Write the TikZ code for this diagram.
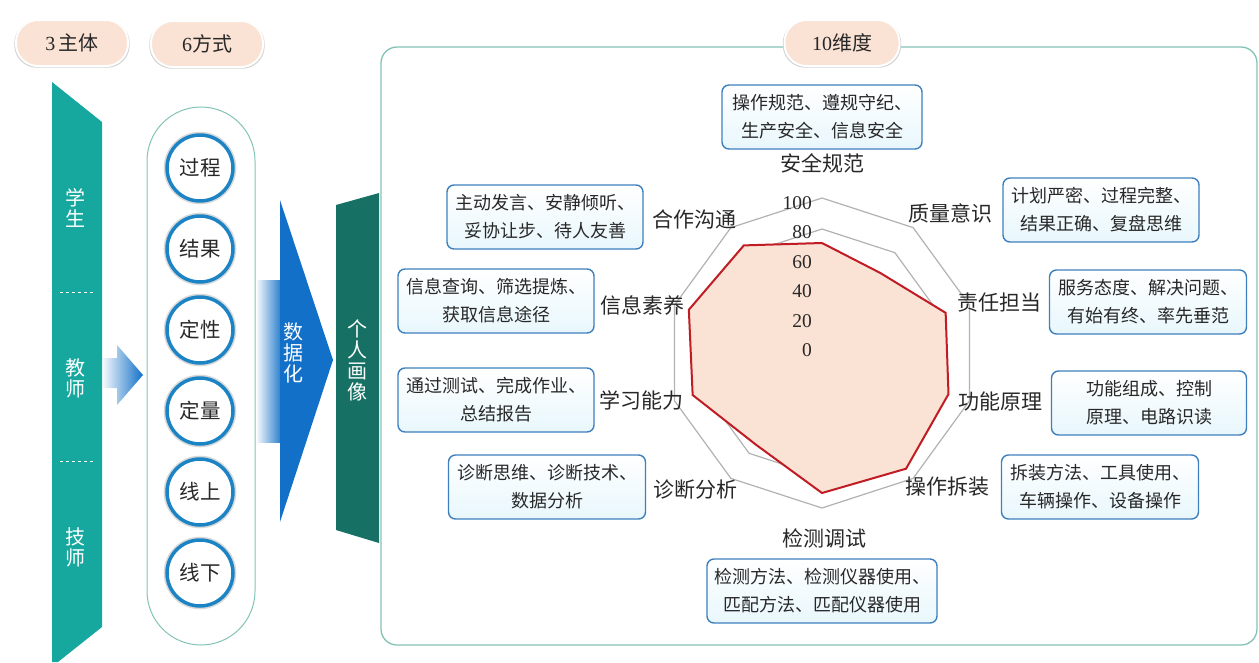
\documentclass[tikz,border=0pt]{standalone}
\usepackage{fontspec}
\setmainfont{Noto Sans CJK SC}
\newfontfamily\numf{Liberation Serif}
\usetikzlibrary{shadows}
\definecolor{teal1}{RGB}{22,168,158}
\definecolor{teal2}{RGB}{22,112,100}
\definecolor{peach}{RGB}{250,226,212}
\definecolor{boxblue}{RGB}{62,128,190}
\definecolor{boxfill}{RGB}{232,247,252}
\definecolor{cblue}{RGB}{28,132,196}
\definecolor{arrowblue}{RGB}{18,112,200}
\definecolor{framec}{RGB}{130,195,182}
\definecolor{txt}{RGB}{40,40,40}
\definecolor{datared}{RGB}{192,28,36}
\definecolor{datafill}{RGB}{250,226,212}
\begin{document}
\begin{tikzpicture}[x=1pt,y=-1pt,
  pill/.style={rectangle, rounded corners=22pt, fill=peach, draw=white, line width=2pt,
    minimum width=112pt, minimum height=46pt, inner sep=0pt, text=txt,
    font=\fontsize{20}{22}\selectfont,
    general shadow={fill=black!18, shadow scale=1.03, shadow yshift=-1pt}},
  method/.style={circle, draw=cblue, line width=3.5pt, fill=white, minimum size=66pt,
    inner sep=0pt, text=txt, font=\fontsize{20.5}{21}\selectfont,
    general shadow={fill=black!15, shadow scale=1.1}},
  vtext/.style={align=center, text=white, inner sep=0pt, font=\fontsize{20}{21}\selectfont},
  infobox/.style={rectangle, rounded corners=7pt, draw=boxblue, line width=1.4pt,
    top color=white, bottom color=boxfill, minimum height=64pt, inner sep=0pt,
    align=center, text=txt, font=\fontsize{18}{28}\selectfont},
  dimlabel/.style={text=txt, inner sep=0pt, font=\fontsize{21}{22}\selectfont},
  ticklabel/.style={text=txt, inner sep=0pt, anchor=east, font=\numf\fontsize{19.5}{20}\selectfont},
  gridline/.style={draw=black!30, line width=1.2pt},
  dashsep/.style={draw=white, dashed, line width=0.8pt}
]
\useasboundingbox (0,0) rectangle (1259,662);

% top pills
\node[pill] (p3) at (72,43) {{\numf 3}\,主体};
\node[pill] (p6) at (207,44) {{\numf 6}方式};

% left teal banner
\fill[teal1] (52,82) -- (102,122) -- (102,627) -- (58,662) -- (52,662) -- cycle;
\node[vtext] (xs) at (75,208) {学\\生};
\node[vtext] (js) at (75,378) {教\\师};
\node[vtext] (jis) at (75,547) {技\\师};
\coordinate (d1a) at (60,292); \coordinate (d1b) at (95,292);
\coordinate (d2a) at (60,461); \coordinate (d2b) at (95,461);
\draw[dashsep] (d1a) -- (d1b);
\draw[dashsep] (d2a) -- (d2b);

% small arrow
\shade[left color=arrowblue!5, right color=arrowblue] (103,358) -- (117,358) -- (117,345) -- (143,375) -- (117,405) -- (117,388) -- (103,388) -- cycle;

% methods container
\node[draw=framec, line width=1pt, rounded corners=54pt, minimum width=108pt, minimum height=538pt, inner sep=0pt, fill=white] (methods) at (201,376) {};
\node[method] (m1) at (200,168) {过程};
\node[method] (m2) at (200,249) {结果};
\node[method] (m3) at (200,330) {定性};
\node[method] (m4) at (200,411) {定量};
\node[method] (m5) at (200,492) {线上};
\node[method] (m6) at (200,573) {线下};

% big arrow
\shade[left color=arrowblue!6, right color=arrowblue!90] (257,280) rectangle (281,442);
\fill[arrowblue] (280,200) -- (333,360) -- (280,522) -- cycle;
\node[vtext] (sjh) at (293,353) {数\\据\\化};

% dark banner
\fill[teal2] (336,205) -- (379,193) -- (379,543) -- (336,530) -- cycle;
\node[vtext] (grhx) at (357,360) {个\\人\\画\\像};

% main frame
\node[draw=framec, line width=1.3pt, rounded corners=16pt, minimum width=876pt, minimum height=598pt, inner sep=0pt, fill=white] (frame) at (819,346) {};
\node[pill, minimum width=115pt] (p10) at (842,43) {{\numf 10}维度};

% radar
\begin{scope}[shift={(822,353)}]
  \draw[gridline] (-90:155) \foreach \a in {-54,-18,18,54,90,126,162,198,234} { -- (\a:155)} -- cycle;
  \draw[gridline] (-90:124) \foreach \a in {-54,-18,18,54,90,126,162,198,234} { -- (\a:124)} -- cycle;
  \filldraw[fill=datafill, draw=datared, line width=2pt, line join=miter]
    (-90:110) -- (-54:99) -- (-18:130) -- (18:133) -- (54:143) -- (90:140)
    -- (126:113) -- (162:136) -- (198:140) -- (234:133) -- cycle;
\end{scope}
\node[ticklabel] (t100) at (812,203) {100};
\node[ticklabel] (t80) at (812,232) {80};
\node[ticklabel] (t60) at (812,262) {60};
\node[ticklabel] (t40) at (812,291) {40};
\node[ticklabel] (t20) at (812,321) {20};
\node[ticklabel] (t0) at (812,350) {0};

% dimension labels
\node[dimlabel] (l1) at (822,163) {安全规范};
\node[dimlabel] (l2) at (950,213) {质量意识};
\node[dimlabel] (l3) at (999,303) {责任担当};
\node[dimlabel] (l4) at (1000,402) {功能原理};
\node[dimlabel] (l5) at (947,487) {操作拆装};
\node[dimlabel] (l6) at (824,538) {检测调试};
\node[dimlabel] (l7) at (695,490) {诊断分析};
\node[dimlabel] (l8) at (641,400) {学习能力};
\node[dimlabel] (l9) at (642,305) {信息素养};
\node[dimlabel] (l10) at (694,220) {合作沟通};

% info boxes
\node[infobox, minimum width=200pt] (b1) at (822,117) {操作规范、遵规守纪、\\生产安全、信息安全};
\node[infobox, minimum width=196pt] (b2) at (1101,210) {计划严密、过程完整、\\结果正确、复盘思维};
\node[infobox, minimum width=197pt] (b3) at (1148,302) {服务态度、解决问题、\\有始有终、率先垂范};
\node[infobox, minimum width=195pt] (b4) at (1149,403) {功能组成、控制\\原理、电路识读};
\node[infobox, minimum width=197pt] (b5) at (1100,487) {拆装方法、工具使用、\\车辆操作、设备操作};
\node[infobox, minimum width=230pt] (b6) at (822,591) {检测方法、检测仪器使用、\\匹配方法、匹配仪器使用};
\node[infobox, minimum width=197pt] (b7) at (547,487) {诊断思维、诊断技术、\\数据分析};
\node[infobox, minimum width=196pt] (b8) at (496,400) {通过测试、完成作业、\\总结报告};
\node[infobox, minimum width=196pt] (b9) at (496,301) {信息查询、筛选提炼、\\获取信息途径};
\node[infobox, minimum width=196pt] (b10) at (545,217) {主动发言、安静倾听、\\妥协让步、待人友善};
\end{tikzpicture}
\end{document}
